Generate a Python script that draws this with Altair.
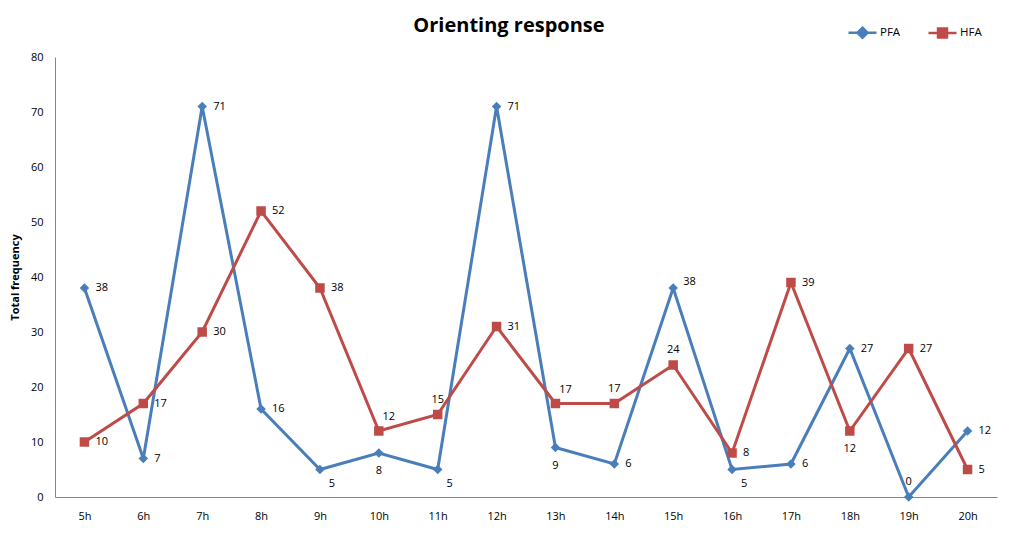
import altair as alt
import pandas as pd

hours = ["5h", "6h", "7h", "8h", "9h", "10h", "11h", "12h", "13h", "14h", "15h", "16h", "17h", "18h", "19h", "20h"]
pfa = [38, 7, 71, 16, 5, 8, 5, 71, 9, 6, 38, 5, 6, 27, 0, 12]
hfa = [10, 17, 30, 52, 38, 12, 15, 31, 17, 17, 24, 8, 39, 12, 27, 5]
# label placement codes (r=right, b=below, br=below-right, a=above, ar=above-right, ru=right-up)
pfa_pos = ["r", "r", "r", "r", "br", "b", "br", "r", "b", "r", "ru", "br", "r", "r", "a", "r"]
hfa_pos = ["r", "r", "r", "r", "r", "ar", "a", "r", "ar", "a", "a", "r", "r", "b", "r", "r"]
series = ["PFA", "HFA"]
colors = ["#4A7EBB", "#BE4B48"]

rows = []
for h, v, p in zip(hours, pfa, pfa_pos):
    rows.append({"hour": h, "series": "PFA", "value": v, "pos": p})
for h, v, p in zip(hours, hfa, hfa_pos):
    rows.append({"hour": h, "series": "HFA", "value": v, "pos": p})
df = pd.DataFrame(rows)

FONT = "Open Sans"

x_enc = alt.X("hour:N", sort=hours, scale=alt.Scale(type="point", padding=0.5),
              axis=alt.Axis(title=None, ticks=False, labelAngle=0, labelPadding=13,
                            labelFontSize=11, labelFont=FONT, labelColor="#000",
                            domainColor="#868686", domainWidth=1, grid=False))
y_enc = alt.Y("value:Q", scale=alt.Scale(domain=[0, 80], nice=False),
              axis=alt.Axis(values=list(range(0, 81, 10)), ticks=False, labelPadding=12,
                            labelFontSize=11, labelFont=FONT, labelColor="#000",
                            domainColor="#868686", domainWidth=1, grid=False,
                            title="Total frequency", titleFont=FONT, titleFontSize=11,
                            titleFontWeight="bold", titleColor="#000",
                            titleX=-40, titleY=220, titleAngle=270,
                            titleAlign="center", titleBaseline="middle"))

base = alt.Chart(df).encode(x=x_enc, y=y_enc)

layers = []
for s, shape, c in zip(series, ["diamond", "square"], colors):
    sub = base.transform_filter(alt.datum.series == s)
    layers.append(sub.mark_line(strokeWidth=3, color=c))
    layers.append(sub.mark_point(shape=shape, filled=True, size=90, opacity=1, color=c))

offsets = {
    "r": dict(align="left", dx=11, dy=0),
    "ru": dict(align="left", dx=10, dy=-6),
    "b": dict(align="center", dx=0, dy=18),
    "br": dict(align="center", dx=12, dy=14),
    "a": dict(align="center", dx=0, dy=-15),
    "ar": dict(align="center", dx=10, dy=-14),
}
for code, kw in offsets.items():
    layers.append(
        base.transform_filter(alt.datum.pos == code)
        .mark_text(baseline="middle", font=FONT, fontSize=11, color="#000", **kw)
        .encode(text="value:Q")
    )

diamond_path = "M-1,0H1M0,-0.36L0.36,0L0,0.36L-0.36,0Z"
square_path = "M-1,0H1M-0.32,-0.32H0.32V0.32H-0.32Z"
leg = alt.Legend(title=None, orient="none", direction="horizontal", legendX=792, legendY=-40,
                 labelFont=FONT, labelFontSize=11.5, labelColor="#000", symbolSize=784,
                 symbolStrokeWidth=2.5, columnPadding=22, labelOffset=2, symbolOpacity=1)
legend_layer = base.mark_point(filled=True, size=784, opacity=0, strokeWidth=2.5).encode(
    fill=alt.Fill("series:N", scale=alt.Scale(domain=series, range=colors), legend=leg),
    stroke=alt.Stroke("series:N", scale=alt.Scale(domain=series, range=colors), legend=leg),
    shape=alt.Shape("series:N", scale=alt.Scale(domain=series, range=[diamond_path, square_path]), legend=leg),
)
layers.append(legend_layer)

chart = alt.layer(*layers).properties(
    width=942, height=440,
    title=alt.TitleParams("Orienting response", font=FONT, fontSize=20, fontWeight="bold",
                          color="#000", anchor="middle", dx=-17, dy=32, offset=13),
    autosize=alt.AutoSizeParams(type="none"),
    padding={"left": 47, "top": 49, "right": 10, "bottom": 40},
    background="white",
).configure_view(stroke=None)

chart.save("out.html", embed_options={"renderer": "svg", "actions": False})
